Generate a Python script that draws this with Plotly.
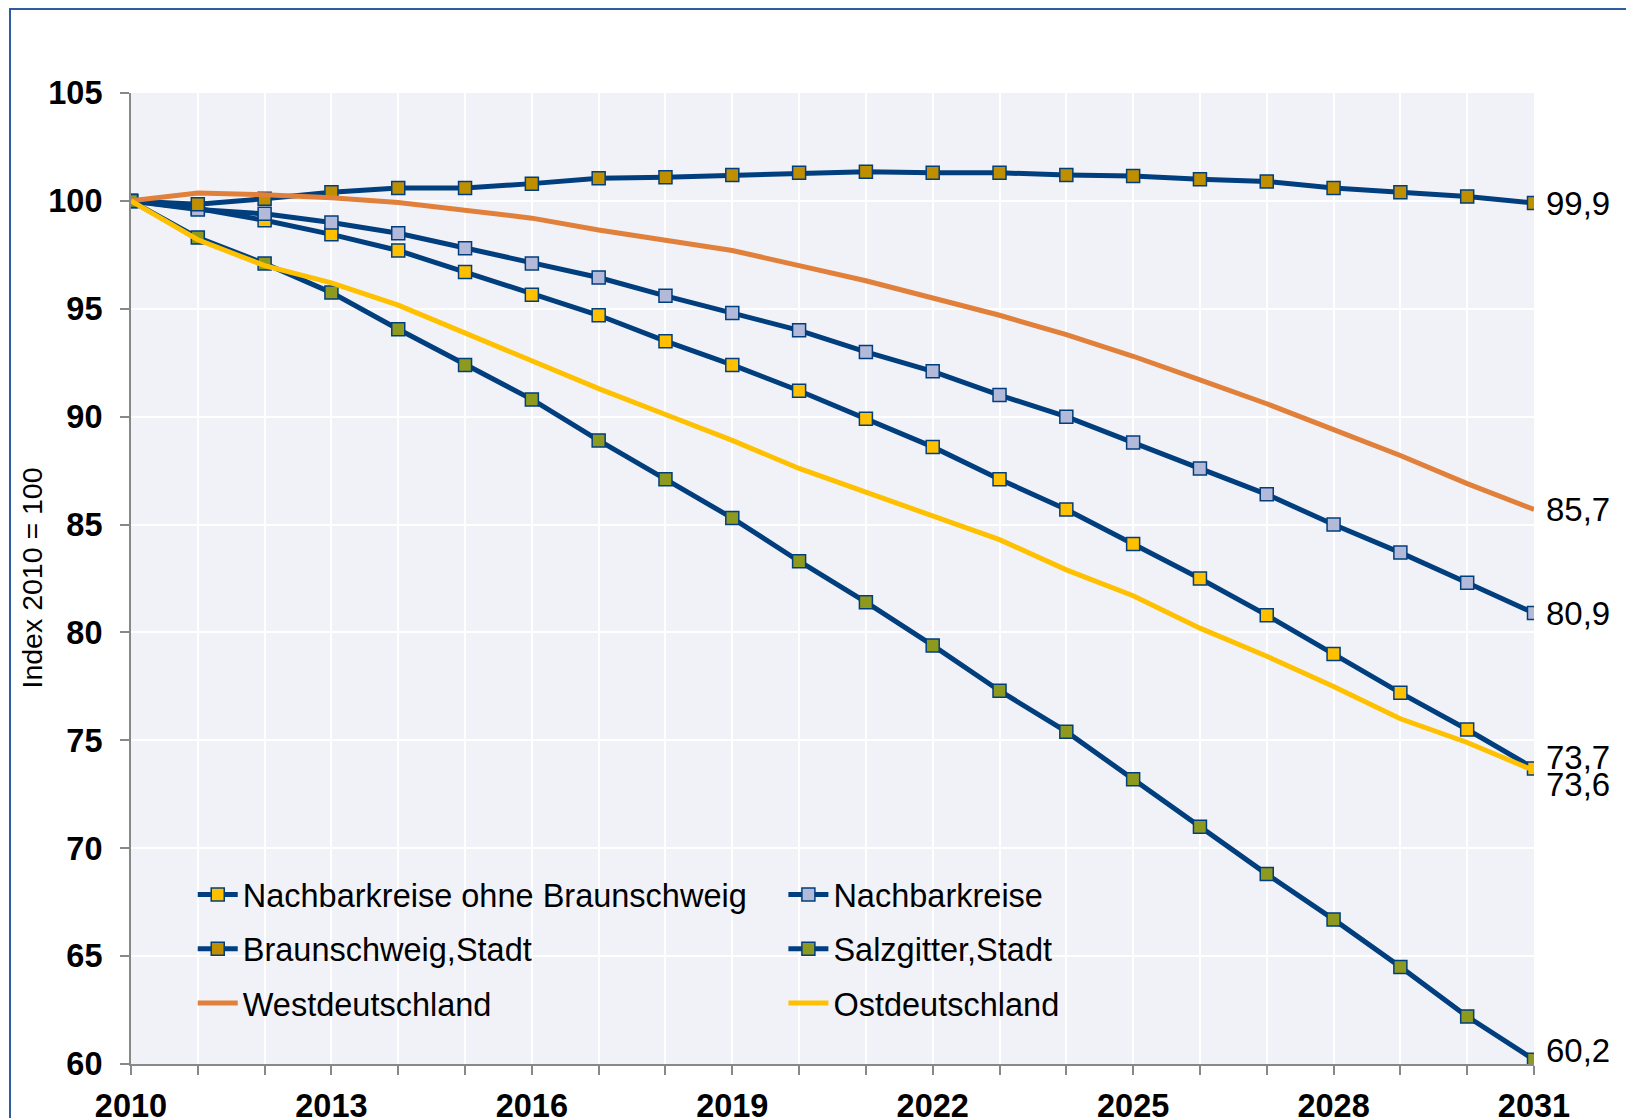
import plotly.graph_objects as go

# Index 2010 = 100, Bevölkerungsentwicklung
YEARS = list(range(2010, 2032))
Y_TICKS = list(range(60, 106, 5))

NACHBAR_OHNE_BS = [100.0, 99.65, 99.1, 98.45, 97.7, 96.7, 95.65, 94.7, 93.5, 92.4, 91.2,
                   89.9, 88.6, 87.1, 85.7, 84.1, 82.5, 80.8, 79.0, 77.2, 75.5, 73.7]
NACHBARKREISE = [100.0, 99.6, 99.4, 99.0, 98.5, 97.8, 97.1, 96.45, 95.6, 94.8, 94.0,
                 93.0, 92.1, 91.0, 90.0, 88.8, 87.6, 86.4, 85.0, 83.7, 82.3, 80.9]
BRAUNSCHWEIG = [100.0, 99.85, 100.1, 100.4, 100.6, 100.6, 100.8, 101.05, 101.1, 101.2, 101.3,
                101.35, 101.3, 101.3, 101.2, 101.15, 101.0, 100.9, 100.6, 100.4, 100.2, 99.9]
SALZGITTER = [100.0, 98.3, 97.1, 95.75, 94.05, 92.4, 90.8, 88.9, 87.1, 85.3, 83.3,
              81.4, 79.4, 77.3, 75.4, 73.2, 71.0, 68.8, 66.7, 64.5, 62.2, 60.2]
WEST = [100.0, 100.37, 100.28, 100.14, 99.93, 99.55, 99.2, 98.65, 98.2, 97.7, 97.0,
        96.3, 95.5, 94.7, 93.8, 92.8, 91.7, 90.6, 89.4, 88.2, 86.9, 85.7]
OST = [100.0, 98.2, 97.0, 96.2, 95.17, 93.9, 92.6, 91.3, 90.1, 88.9, 87.6,
       86.5, 85.4, 84.3, 82.9, 81.7, 80.2, 78.9, 77.5, 76.0, 74.9, 73.6]

NAVY = "#003E7E"
GREY = "#888888"
FONT = "Liberation Sans, Arial, sans-serif"

# the page body adds 8px, margins are set so the plot lands where the original is
W, H = 1634, 1118
M = dict(l=123, r=108, t=85, b=62)
PW = W - M["l"] - M["r"]
PH = H - M["t"] - M["b"]

SERIES = [
    # name, values, marker colour (None = plain line), line colour, legend, label shift
    ("Nachbarkreise ohne Braunschweig", NACHBAR_OHNE_BS, "#FFC000", NAVY, "legend", 11),
    ("Nachbarkreise", NACHBARKREISE, "#B3B9D8", NAVY, "legend2", 0),
    ("Braunschweig,Stadt", BRAUNSCHWEIG, "#BF8F00", NAVY, "legend", 0),
    ("Salzgitter,Stadt", SALZGITTER, "#8E9A1E", NAVY, "legend2", 9),
    ("Westdeutschland", WEST, None, "#E0803A", "legend", 0),
    ("Ostdeutschland", OST, None, "#FFC000", "legend2", -14),
]

fig = go.Figure()
for name, vals, mcol, lcol, leg, shift in SERIES:
    if mcol:
        fig.add_trace(go.Scatter(
            x=YEARS, y=vals, name=name, mode="lines+markers",
            line=dict(color=lcol, width=5),
            marker=dict(symbol="square", size=13, color=mcol,
                        line=dict(color=NAVY, width=1.5)),
            legend=leg, legendgroup=name))
    else:
        fig.add_trace(go.Scatter(
            x=YEARS, y=vals, name=name, mode="lines",
            line=dict(color=lcol, width=5),
            legend=leg, legendgroup=name))
    # end-of-line value label
    fig.add_annotation(
        x=YEARS[-1], y=vals[-1], text=f"{vals[-1]:.1f}".replace(".", ","),
        xanchor="left", yanchor="middle", xshift=10, yshift=shift,
        showarrow=False, font=dict(size=33, color="black", family=FONT))

tick_text = [str(y) if (y - 2010) % 3 == 0 else "" for y in YEARS]

# y axis title
fig.add_annotation(xref="paper", yref="paper", x=(23 - M["l"]) / PW, y=0.5,
                   text="Index 2010 = 100", textangle=-90, showarrow=False,
                   xanchor="center", yanchor="middle",
                   font=dict(size=28.5, family=FONT, color="black"))

# blue frame around the whole chart
fig.add_shape(type="rect", xref="paper", yref="paper",
              x0=(2 - M["l"]) / PW, x1=(W + 20 - M["l"]) / PW,
              y0=(-30 - M["b"]) / PH, y1=(H - M["b"] - 1) / PH,
              line=dict(color="#2E5C9E", width=2), fillcolor="rgba(0,0,0,0)",
              layer="below")

legend_style = dict(yanchor="top", xanchor="left", bgcolor="rgba(0,0,0,0)",
                    font=dict(size=32.5, family=FONT), itemwidth=40,
                    tracegroupgap=9, orientation="v")

fig.update_layout(
    width=W, height=H, margin=M,
    paper_bgcolor="white", plot_bgcolor="#F0F2F7",
    font=dict(family=FONT, color="black"),
    showlegend=True,
    legend=dict(x=0.044, y=0.203, **legend_style),
    legend2=dict(x=0.465, y=0.203, **legend_style),
    xaxis=dict(range=[2010, 2031], tickvals=YEARS, ticktext=tick_text,
               showgrid=True, gridcolor="white", gridwidth=2,
               showline=True, linecolor=GREY, linewidth=2,
               ticks="outside", ticklen=9, tickcolor=GREY, tickwidth=2,
               ticklabelstandoff=3, automargin=False,
               tickfont=dict(size=32.5, family=FONT, weight="bold"),
               zeroline=False),
    yaxis=dict(range=[60, 105], tickvals=Y_TICKS,
               showgrid=True, gridcolor="white", gridwidth=2,
               showline=True, linecolor=GREY, linewidth=2,
               ticks="outside", ticklen=9, tickcolor=GREY, tickwidth=2,
               ticklabelstandoff=11, automargin=False,
               tickfont=dict(size=32.5, family=FONT, weight="bold"),
               zeroline=False),
)

fig.write_html("out.html")
